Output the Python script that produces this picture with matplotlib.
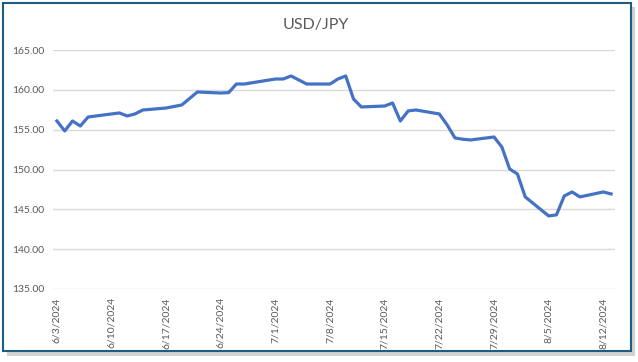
"""USD/JPY daily rate, Jun-Aug 2024 (Excel-style line chart)."""

import matplotlib
matplotlib.use("Agg")
import matplotlib.pyplot as plt
from matplotlib.patches import Rectangle
import pandas as pd

# trading days and closing rates
dates = [
    "2024-06-03", "2024-06-04", "2024-06-05", "2024-06-06", "2024-06-07",
    "2024-06-11", "2024-06-12", "2024-06-13", "2024-06-14",
    "2024-06-17", "2024-06-19", "2024-06-21",
    "2024-06-24", "2024-06-25", "2024-06-26", "2024-06-27",
    "2024-07-01", "2024-07-02", "2024-07-03", "2024-07-05",
    "2024-07-08", "2024-07-09", "2024-07-10", "2024-07-11", "2024-07-12",
    "2024-07-15", "2024-07-16", "2024-07-17", "2024-07-18", "2024-07-19",
    "2024-07-22", "2024-07-23", "2024-07-24", "2024-07-25", "2024-07-26",
    "2024-07-29", "2024-07-30", "2024-07-31", "2024-08-01", "2024-08-02",
    "2024-08-05", "2024-08-06", "2024-08-07", "2024-08-08", "2024-08-09",
    "2024-08-12", "2024-08-13",
]
usd_jpy = [
    156.09, 154.84, 156.09, 155.46, 156.59,
    157.10, 156.72, 156.97, 157.47,
    157.72, 158.10, 159.73,
    159.60, 159.65, 160.73, 160.73,
    161.36, 161.36, 161.74, 160.73,
    160.73, 161.36, 161.74, 158.85, 157.85,
    157.97, 158.35, 156.09, 157.35, 157.47,
    156.97, 155.59, 153.96, 153.80, 153.71,
    154.08, 152.83, 150.07, 149.44, 146.56,
    144.17, 144.30, 146.68, 147.18, 146.56,
    147.18, 146.93,
]
y_ticks = [135, 140, 145, 150, 155, 160, 165]

x = pd.to_datetime(dates)
GRAY = "#595959"
FONT = ["Lato", "DejaVu Sans"]

fig = plt.figure(figsize=(6.38, 3.62), dpi=100)

# chart frame with drop shadow
fig.patches.append(Rectangle((7 / 638, 6 / 362), 628 / 638, 349 / 362,
                             transform=fig.transFigure, facecolor="#D2D2D2",
                             edgecolor="none", zorder=0))
fig.patches.append(Rectangle((3 / 638, 11 / 362), 628 / 638, 348 / 362,
                             transform=fig.transFigure, facecolor="white",
                             edgecolor="#1F5C84", linewidth=1.5, zorder=1))

ax = fig.add_axes([53 / 638, 1 - 289 / 362, 562 / 638, 239 / 362])
ax.set_zorder(5)
ax.set_facecolor("none")
ax.plot(x, usd_jpy, color="#4472C4", linewidth=2.3, solid_joinstyle="round")

start = pd.Timestamp("2024-06-03")
ax.set_xlim(start - pd.Timedelta(hours=12), pd.Timestamp("2024-08-13") + pd.Timedelta(hours=12))
ax.set_ylim(135, 165)
ax.set_yticks(y_ticks)
ax.set_yticklabels([f"{v:.2f}" for v in y_ticks], fontsize=7.5, color=GRAY, family=FONT)
xt = pd.date_range(start, "2024-08-12", freq="7D")
ax.set_xticks(xt)
ax.set_xticklabels([f"{d.month}/{d.day}/{d.year}" for d in xt], rotation=90,
                   fontsize=7.5, color=GRAY, family=FONT)
ax.tick_params(length=0, pad=6)
ax.grid(True, axis="y", color="#D9D9D9", linewidth=1)
for s in ax.spines.values():
    s.set_visible(False)
ax.set_axisbelow(True)

fig.text(316 / 638, 1 - 25 / 362, "USD/JPY", ha="center", va="center",
         fontsize=11.5, color=GRAY, family=FONT, zorder=6)

plt.savefig("out.png", dpi=100)
